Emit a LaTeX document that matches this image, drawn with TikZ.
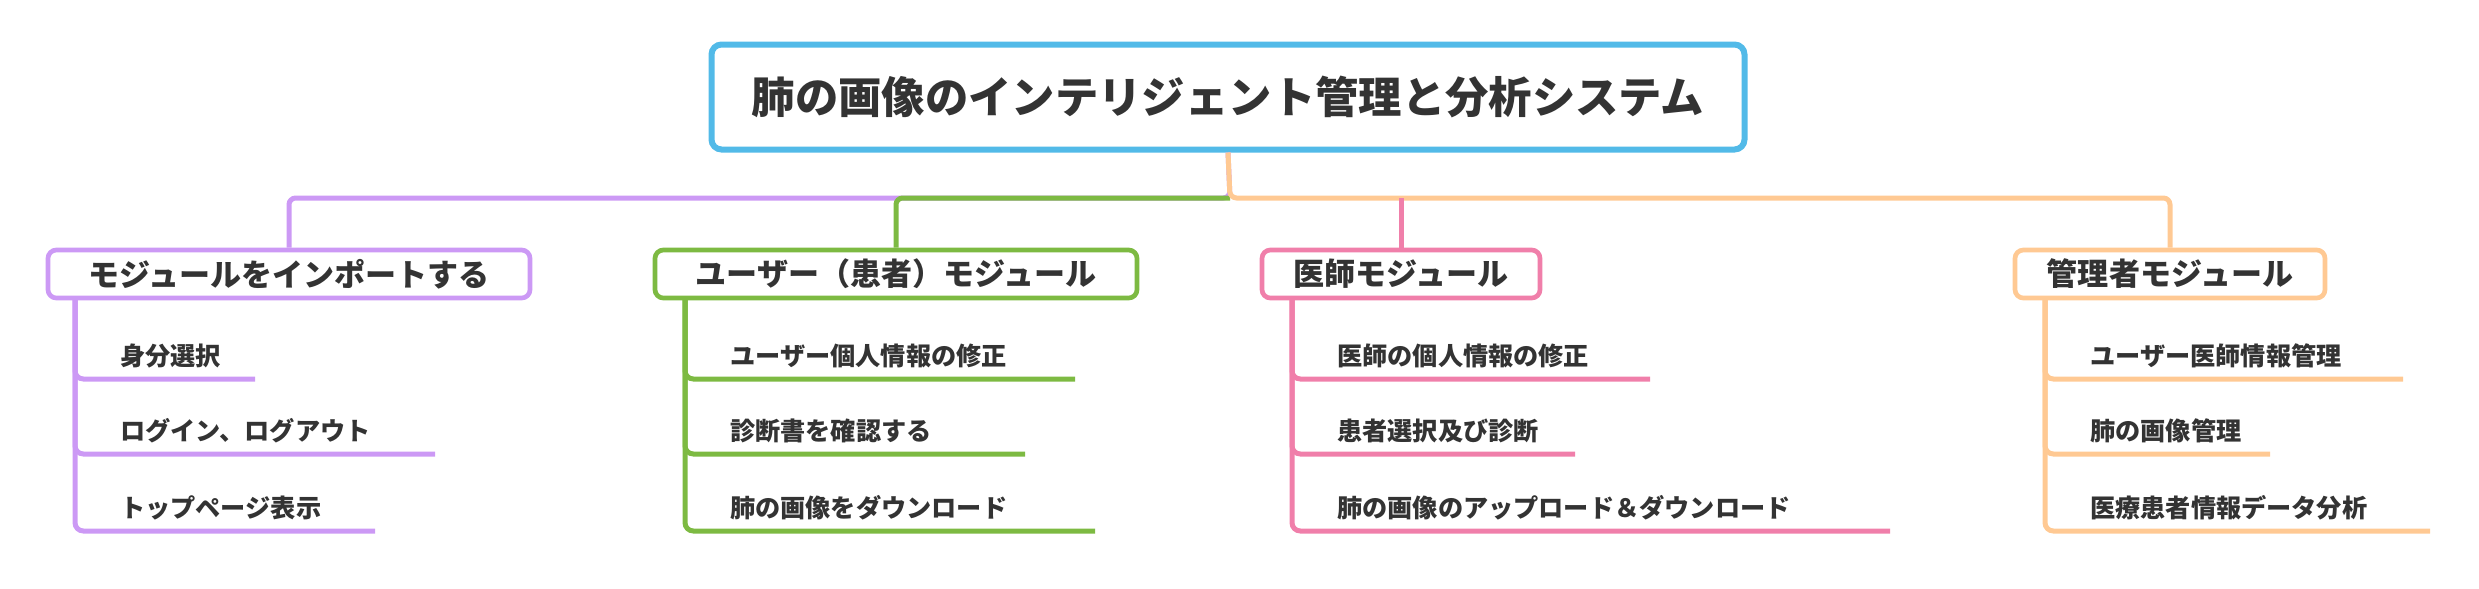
\documentclass[tikz,border=0pt]{standalone}
\usepackage{fontspec}
\newfontfamily\jp{Noto Sans CJK JP}
\definecolor{cblue}{HTML}{52BAE8}
\definecolor{cpur}{HTML}{CC99F5}
\definecolor{cgrn}{HTML}{7DBA42}
\definecolor{cpnk}{HTML}{F07FAA}
\definecolor{corg}{HTML}{FFC993}
\definecolor{ctxt}{HTML}{333333}
\begin{document}
\begin{tikzpicture}[x=0.3mm,y=-0.3mm,
  rootbox/.style={draw=cblue,line width=1.8mm,rounded corners=3mm,fill=white,text=ctxt,font=\jp\bfseries\fontsize{37}{37}\selectfont,minimum width=309.9mm,minimum height=31.5mm,inner sep=0pt},
  l1box/.style={line width=1.4mm,rounded corners=2.5mm,fill=white,text=ctxt,font=\jp\bfseries\fontsize{26.5}{26.5}\selectfont,minimum height=14.4mm,inner sep=0pt},
  leaf/.style={anchor=west,text=ctxt,font=\jp\bfseries\fontsize{21.5}{21.5}\selectfont,inner sep=0pt},
  br/.style={line width=1.5mm}]
\useasboundingbox (0,0) rectangle (2479,588);
\node[rootbox] (root) at (1228,97) {肺の画像のインテリジェント管理と分析システム};
\coordinate (j) at (1230,198);
\node[l1box,draw=cpur,minimum width=144.6mm] (p) at (289,274) {モジュールをインポートする};
\node[l1box,draw=cgrn,minimum width=144.6mm] (g) at (896,274) {ユーザー（患者）モジュール};
\node[l1box,draw=cpnk,minimum width=83.4mm] (k) at (1401,274) {医師モジュール};
\node[l1box,draw=corg,minimum width=93mm] (o) at (2170,274) {管理者モジュール};
\draw[br,cpur,rounded corners=2mm] (root.south) -- (j) -| (p.north);
\draw[br,cgrn,rounded corners=2mm] (j) -- (j-|g.north) -- (g.north);
\draw[br,corg,rounded corners=2mm] (root.south) -- (j) -| (o.north);
\draw[br,cpnk] (k.north) -- (k.north|-j);
\foreach \pn/\col/\vx/\ta/\ea/\tb/\eb/\tc/\ec [count=\i] in {
 p/cpur/75/身分選択/255/ログイン、ログアウト/435/トップページ表示/375,
 g/cgrn/685/ユーザー個人情報の修正/1075/診断書を確認する/1025/肺の画像をダウンロード/1095,
 k/cpnk/1292/医師の個人情報の修正/1650/患者選択及び診断/1575/肺の画像のアップロード＆ダウンロード/1890,
 o/corg/2045/ユーザー医師情報管理/2403/肺の画像管理/2270/医療患者情報データ分析/2430}{
  \coordinate (s\i) at (\vx,298);
  \node[leaf] (a\i) at (\vx+45,356) {\ta};
  \node[leaf] (b\i) at (\vx+45,431) {\tb};
  \node[leaf] (c\i) at (\vx+45,508) {\tc};
  \coordinate (ea\i) at (\ea,379);
  \coordinate (eb\i) at (\eb,454);
  \coordinate (ec\i) at (\ec,531);
  \draw[br,\col,rounded corners=2.5mm] (s\i) |- (ea\i);
  \draw[br,\col,rounded corners=2.5mm] (s\i) |- (eb\i);
  \draw[br,\col,rounded corners=2.5mm] (s\i) |- (ec\i);
}
\end{tikzpicture}
\end{document}
